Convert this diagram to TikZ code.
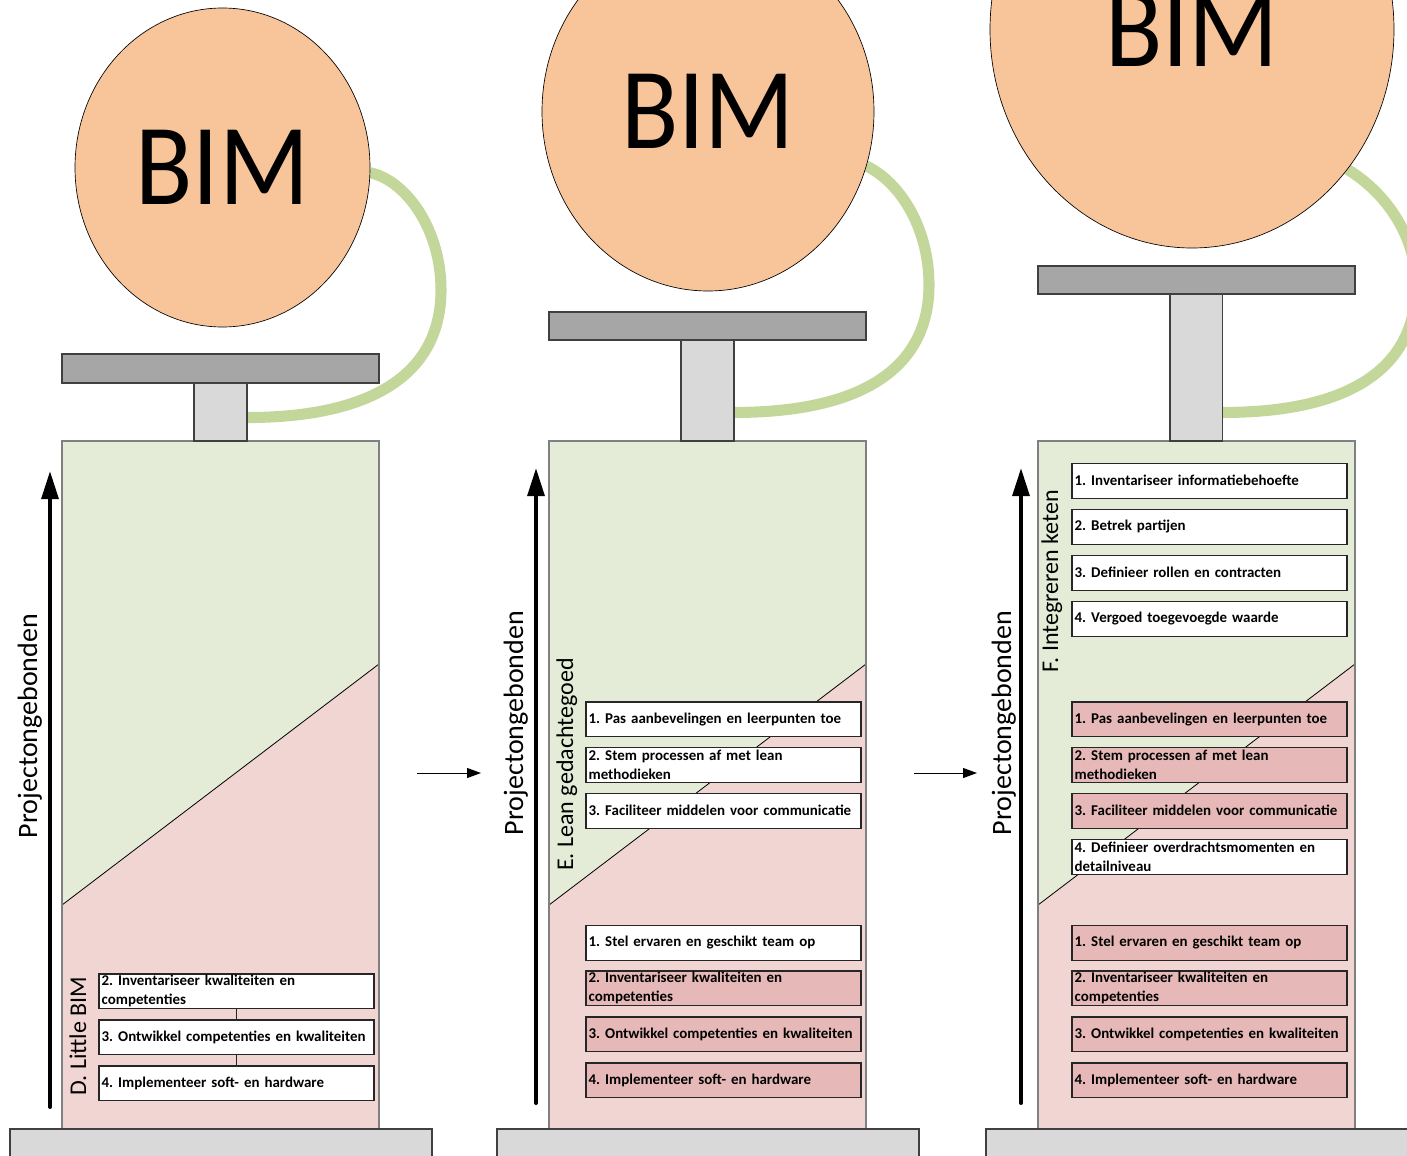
\documentclass[tikz,border=0pt]{standalone}
\usepackage{fontspec}
\setmainfont{Carlito}
\usetikzlibrary{arrows.meta,shapes.geometric}
\definecolor{bodygreen}{HTML}{E4ECD7}
\definecolor{bodypink}{HTML}{F0D5D2}
\definecolor{boxpink}{HTML}{E6B9B8}
\definecolor{bimorange}{HTML}{F8C59B}
\definecolor{cablegreen}{HTML}{C4D79B}
\definecolor{plategray}{HTML}{A6A6A6}
\definecolor{basegray}{HTML}{D9D9D9}
\pgfdeclarelayer{background}
\pgfsetlayers{background,main}
\frenchspacing
\begin{document}
\frenchspacing
\begin{tikzpicture}[x=0.75pt,y=-0.75pt,
  every node/.style={inner sep=0pt, outer sep=0pt},
  grayline/.style={draw=black!75, line width=0.9pt},
  basebox/.style={grayline, fill=basegray},
  platebox/.style={grayline, fill=plategray},
  stembox/.style={grayline, fill=basegray, anchor=north west, minimum width=39.75pt},
  bodyline/.style={draw=black!50, line width=0.8pt},
  diagline/.style={draw=black, line width=0.6pt},
  cable/.style={draw=cablegreen, line width=8.3pt},
  bimball/.style={ellipse, draw=black, line width=0.5pt, fill=bimorange},
  bimtext/.style={font=\fontsize{79}{79}\selectfont, yscale=1.1},
  uparrow/.style={line width=3pt, line cap=round, -{Triangle[length=21pt,width=12.5pt]}},
  rightarrow/.style={line width=0.75pt, -{Triangle[length=10.5pt,width=7.5pt]}},
  sidelabel/.style={rotate=90, anchor=base, font=\fontsize{21}{21}\selectfont},
  phaselabel/.style={rotate=90, anchor=base, font=\fontsize{18}{18}\selectfont},
  wbox/.style={draw=black!85, line width=0.8pt, fill=white, anchor=north west,
    minimum height=25.9pt, text width=202.25pt, inner xsep=2pt, inner ysep=0pt,
    align=left, font=\frenchspacing\bfseries\fontsize{11.2}{14.25}\selectfont},
  pbox/.style={wbox, fill=boxpink},
  link/.style={draw=black!85, line width=0.8pt}
]
\useasboundingbox (0,0) rectangle (1407,1156);
\clip (0,0) rectangle (1407,1156);

% ---------- common column bodies ----------
\foreach \dx in {0,487,976}{
  \fill[bodygreen] ({62+\dx},441) -- ({379+\dx},441) -- ({379+\dx},664) -- ({62+\dx},905) -- cycle;
  \fill[bodypink] ({62+\dx},905) -- ({379+\dx},664) -- ({379+\dx},1129) -- ({62+\dx},1129) -- cycle;
  \draw[diagline] ({62+\dx},905) -- ({379+\dx},664);
  \draw[bodyline] ({62+\dx},441) rectangle ({379+\dx},1129);
  \draw[basebox] ({10+\dx},1129) rectangle ({432+\dx},1180);
}

% ---------- column 1 top ----------
\node[stembox, minimum height=43.5pt] (stem1) at (194,383) {};
\draw[platebox] (62,354) rectangle (379,383);
\node[bimball, minimum width=221.25pt, minimum height=239.25pt] (bim1) at (222.5,167.5) {};
\node[bimtext] (bimt1) at (bim1.center) {BIM};
\begin{pgfonlayer}{background}
\draw[cable] (bim1.-2) .. controls (405,180) and (441,228) .. (441,290)
  .. controls (441,372) and (375,417.5) .. ([yshift=17.6pt]stem1.south east);
\end{pgfonlayer}

% ---------- column 2 top ----------
\node[stembox, minimum height=75.75pt] (stem2) at (681,340) {};
\draw[platebox] (549,312) rectangle (866,340);
\node[bimball, minimum width=249pt, minimum height=269.25pt] (bim2) at (708,111.5) {};
\node[bimtext] (bimt2) at (bim2.center) {BIM};
\begin{pgfonlayer}{background}
\draw[cable] (bim2.-19) .. controls (900,182) and (929,228) .. (929,285)
  .. controls (929,368) and (862,412.5) .. ([yshift=21.4pt]stem2.south east);
\end{pgfonlayer}

% ---------- column 3 top ----------
\node[stembox, minimum width=39.5pt, minimum height=110.25pt] (stem3) at (1170,294) {};
\draw[platebox] (1038,266) rectangle (1355,294);
\node[bimball, minimum width=303pt, minimum height=327.75pt] (bim3) at (1192,29.5) {};
\node[bimtext] (bimt3) at (bim3.center) {BIM};
\begin{pgfonlayer}{background}
\draw[cable] (bim3.-42) .. controls (1385,192) and (1416,235) .. (1416,285)
  .. controls (1416,368) and (1350,412.5) .. ([yshift=21.4pt]stem3.south east);
\end{pgfonlayer}

% ---------- vertical arrows and side labels ----------
\coordinate (a1s) at (50,1107); \coordinate (a1e) at (50,471);
\coordinate (a2s) at (536,1103); \coordinate (a2e) at (536,468);
\coordinate (a3s) at (1021,1103); \coordinate (a3e) at (1021,468);
\draw[uparrow] (a1s) -- (a1e);
\draw[uparrow] (a2s) -- (a2e);
\draw[uparrow] (a3s) -- (a3e);
\node[sidelabel] (pl1) at (37,726) {Projectongebonden};
\node[sidelabel] (pl2) at (523,723) {Projectongebonden};
\node[sidelabel] (pl3) at (1011,723) {Projectongebonden};

\node[phaselabel] (lab1) at (86,1036) {D. Little BIM};
\node[phaselabel] (lab2) at (573,764.5) {E. Lean gedachtegoed};
\node[phaselabel] (lab3) at (1058,581) {F. Integreren keten};

% ---------- horizontal arrows ----------
\coordinate (h1s) at (417,773); \coordinate (h1e) at (481,773);
\coordinate (h2s) at (914,773); \coordinate (h2e) at (977,773);
\draw[rightarrow] (h1s) -- (h1e);
\draw[rightarrow] (h2s) -- (h2e);

% ---------- column 1 boxes ----------
\node[wbox] (d2) at (99,974) {2. Inventariseer kwaliteiten en\\competenties};
\node[wbox] (d3) at (99,1020) {3. Ontwikkel competenties en kwaliteiten};
\node[wbox] (d4) at (99,1066) {4. Implementeer soft- en hardware};
\draw[link] (d2.south) -- (d3.north);
\draw[link] (d3.south) -- (d4.north);

% ---------- column 2 boxes ----------
\node[wbox] (e1) at (586,702) {1. Pas aanbevelingen en leerpunten toe};
\node[wbox] (e2) at (586,747.5) {2. Stem processen af met lean\\methodieken};
\node[wbox] (e3) at (586,793.5) {3. Faciliteer middelen voor communicatie};
\node[wbox] (e4) at (586,925.5) {1. Stel ervaren en geschikt team op};
\node[pbox] (e5) at (586,971) {2. Inventariseer kwaliteiten en\\competenties};
\node[pbox] (e6) at (586,1017) {3. Ontwikkel competenties en kwaliteiten};
\node[pbox] (e7) at (586,1063) {4. Implementeer soft- en hardware};

% ---------- column 3 boxes ----------
\node[wbox] (f1) at (1072,463.5) {1. Inventariseer informatiebehoefte};
\node[wbox] (f2) at (1072,509.5) {2. Betrek partijen};
\node[wbox] (f3) at (1072,555.5) {3. Definieer rollen en contracten};
\node[wbox] (f4) at (1072,601.5) {4. Vergoed toegevoegde waarde};
\node[pbox] (f5) at (1072,702) {1. Pas aanbevelingen en leerpunten toe};
\node[pbox] (f6) at (1072,747.5) {2. Stem processen af met lean\\methodieken};
\node[pbox] (f7) at (1072,793.5) {3. Faciliteer middelen voor communicatie};
\node[wbox] (f8) at (1072,839.5) {4. Definieer overdrachtsmomenten en\\detailniveau};
\node[pbox] (f9) at (1072,925.5) {1. Stel ervaren en geschikt team op};
\node[pbox] (f10) at (1072,971) {2. Inventariseer kwaliteiten en\\competenties};
\node[pbox] (f11) at (1072,1017) {3. Ontwikkel competenties en kwaliteiten};
\node[pbox] (f12) at (1072,1063) {4. Implementeer soft- en hardware};
\end{tikzpicture}
\end{document}
